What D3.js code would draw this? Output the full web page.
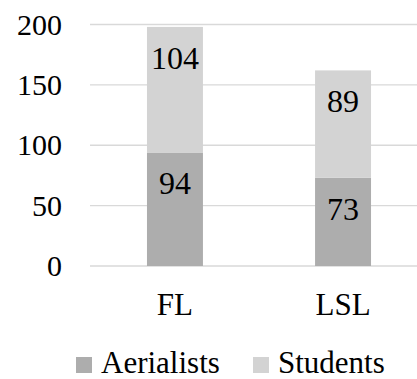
<!DOCTYPE html>
<html>
<head>
<meta charset="utf-8">
<script src="https://cdn.jsdelivr.net/npm/d3@7/dist/d3.min.js"></script>
</head>
<body style="margin:0">
<svg id="chart" width="417" height="379"></svg>
<script>
// Stacked column data
const categories = ["FL", "LSL"];
const seriesNames = ["Aerialists", "Students"];
const aerialists = [94, 73];
const students = [104, 89];
const yTicks = [0, 50, 100, 150, 200];
const colors = ["#adadad", "#d3d3d3"];

const FONT = "'Liberation Serif', 'Times New Roman', Tinos, Times, serif";

const rows = categories.map((c, i) => ({ cat: c, Aerialists: aerialists[i], Students: students[i] }));
const stacked = d3.stack().keys(seriesNames)(rows);

const svg = d3.select("#chart");

const x = d3.scaleBand().domain(categories).range([91, 427]).paddingInner(0.667).paddingOuter(0.333);
const y = d3.scaleLinear().domain([0, 200]).range([266, 24.5]);

// Horizontal gridlines
svg.append("g").selectAll("line").data(yTicks).join("line")
  .attr("x1", 90).attr("x2", 417)
  .attr("y1", d => y(d)).attr("y2", d => y(d))
  .attr("stroke", "#d9d9d9").attr("stroke-width", 1.4);

// Y tick labels
svg.selectAll("text.tick").data(yTicks).join("text")
  .attr("class", "tick")
  .attr("x", 62).attr("y", d => y(d) + 10)
  .attr("text-anchor", "end").attr("font-size", 30)
  .style("font-family", FONT)
  .text(d => d);

// Bars
stacked.forEach((layer, li) => {
  svg.selectAll(`rect.s${li}`).data(layer).join("rect")
    .attr("class", `s${li}`)
    .attr("fill", colors[li])
    .attr("x", d => x(d.data.cat))
    .attr("width", x.bandwidth())
    .attr("y", d => y(d[1]))
    .attr("height", d => y(d[0]) - y(d[1]));
});

// Value labels, near the top inside each segment
stacked.forEach((layer, li) => {
  svg.selectAll(`text.v${li}`).data(layer).join("text")
    .attr("class", `v${li}`)
    .attr("x", d => x(d.data.cat) + x.bandwidth() / 2)
    .attr("y", d => y(d[1]) + 42)
    .attr("text-anchor", "middle").attr("font-size", 32)
    .style("font-family", FONT)
    .text(d => d.data[layer.key]);
});

// Category axis labels
svg.selectAll("text.cat").data(categories).join("text")
  .attr("class", "cat")
  .attr("x", d => x(d) + x.bandwidth() / 2).attr("y", 315)
  .attr("text-anchor", "middle").attr("font-size", 31)
  .style("font-family", FONT)
  .text(d => d);

// Legend
const legendX = [76, 253];
svg.selectAll("rect.key").data(seriesNames).join("rect")
  .attr("class", "key")
  .attr("x", (d, i) => legendX[i]).attr("y", 357).attr("width", 16).attr("height", 16)
  .attr("fill", (d, i) => colors[i]);
svg.selectAll("text.key").data(seriesNames).join("text")
  .attr("class", "key")
  .attr("x", (d, i) => legendX[i] + 25).attr("y", 373).attr("font-size", 31)
  .style("font-family", FONT)
  .text(d => d);
</script>
</body>
</html>
